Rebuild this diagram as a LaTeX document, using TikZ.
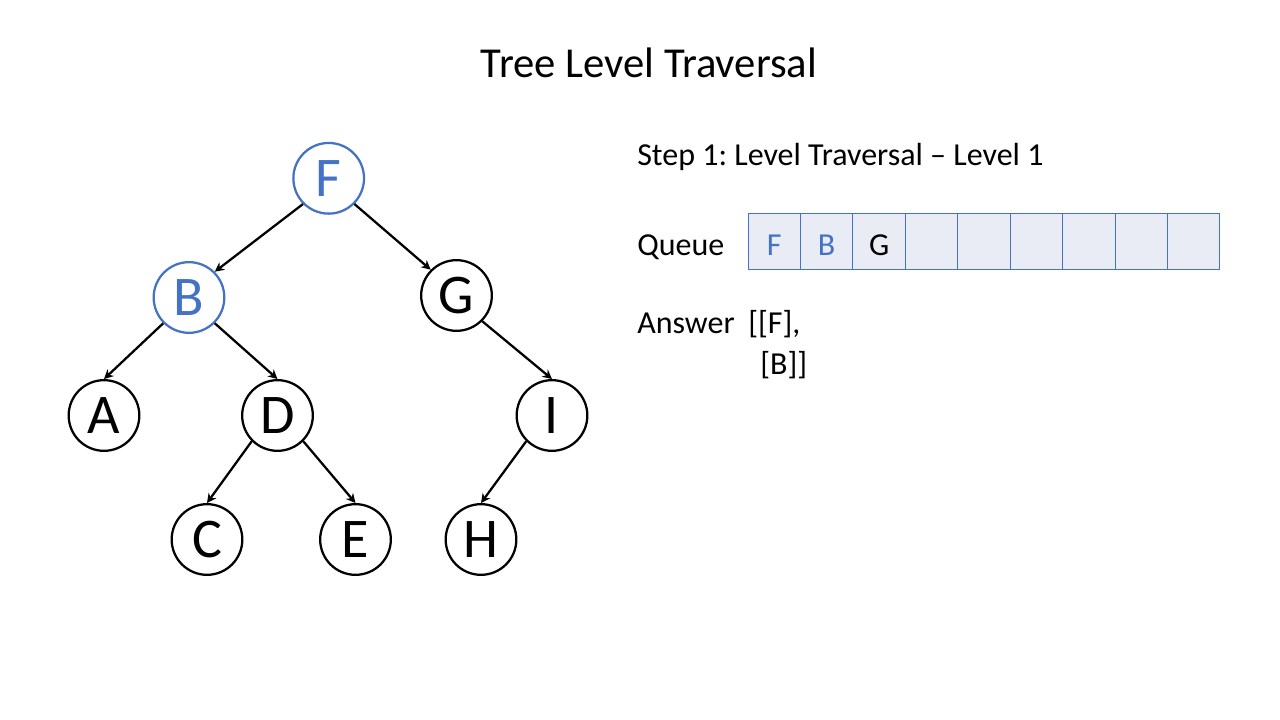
\documentclass[tikz,border=0pt]{standalone}
\usepackage{fontspec}
\setmainfont{Carlito}
\usetikzlibrary{arrows.meta}
\definecolor{nodeblue}{HTML}{4472C4}
\definecolor{cellfill}{HTML}{E9EBF5}
\frenchspacing
\begin{document}
\begin{tikzpicture}[x=0.75pt,y=-0.75pt,
  treenode/.style={circle,draw=black,line width=1.7pt,minimum size=53pt,inner sep=0pt,font=\fontsize{42}{50}\selectfont},
  visited/.style={draw=nodeblue,text=nodeblue},
  edge/.style={line width=1.7pt,-{Stealth[length=7pt,width=7pt]}},
  cell/.style={draw=nodeblue,fill=cellfill,line width=0.75pt,minimum width=39.3pt,minimum height=41.25pt,inner sep=0pt},
  label/.style={font=\fontsize{24}{29}\selectfont,inner sep=0pt}
]
\useasboundingbox (0,0) rectangle (1280,720);
% title
\node[font=\fontsize{32}{38}\selectfont,anchor=base,inner sep=0pt] (title) at (649,78) {Tree Level Traversal};
% tree
\node[treenode,visited] (F) at (328.7,178.3) {F};
\node[treenode,visited] (B) at (189,297.5) {B};
\node[treenode] (G) at (456.5,295.5) {G};
\node[treenode] (A) at (104,415.5) {A};
\node[treenode] (D) at (277.5,415.5) {D};
\node[treenode] (I) at (552,415.5) {I};
\node[treenode] (C) at (207,539.5) {C};
\node[treenode] (E) at (355.5,539.5) {E};
\node[treenode] (H) at (481,539.5) {H};
\draw[edge] (F.south west) -- (B.north east);
\draw[edge] (F.south east) -- (G.north west);
\draw[edge] (B.south west) -- (A.north);
\draw[edge] (B.south east) -- (D.north);
\draw[edge] (G.south east) -- (I.north);
\draw[edge] (D.south west) -- (C.north);
\draw[edge] (D.south east) -- (E.north);
\draw[edge] (I.south west) -- (H.north);
% right side texts
\node[label,anchor=base west] (step) at (637,166) {Step 1: Level Traversal – Level 1};
\node[label,anchor=base west] (queue) at (637,255) {Queue};
\foreach \i in {0,...,8} {
  \node[cell] (q\i) at ({748+52.44*(\i+0.5)},241.5) {};
}
\node[label,text=nodeblue,anchor=base] (qF) at (q0.center |- 0,255) {F};
\node[label,text=nodeblue,anchor=base] (qB) at (q1.center |- 0,255) {B};
\node[label,anchor=base] (qG) at (q2.center |- 0,255) {G};
\node[label,anchor=base west] (ans) at (637,333) {Answer};
\node[label,anchor=base west] (ans1) at (748,333) {[[F],};
\node[label,anchor=base west] (ans2) at (760,374) {[B]]};
\end{tikzpicture}
\end{document}
